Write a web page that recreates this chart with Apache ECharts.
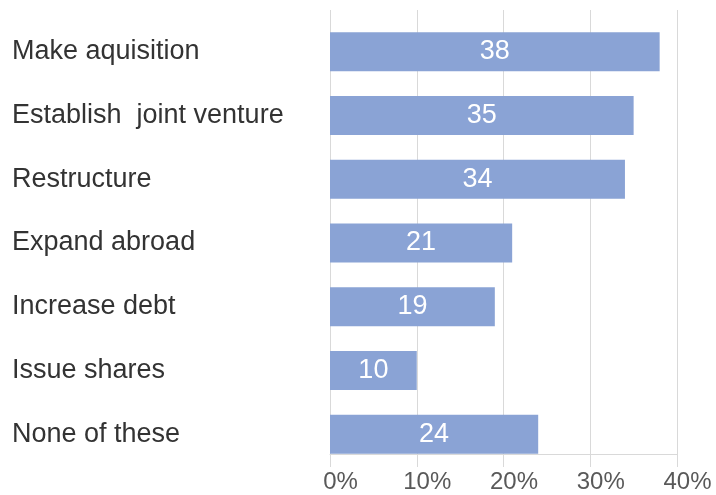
<!DOCTYPE html>
<html>
<head>
<meta charset="utf-8">
<script src="https://cdn.jsdelivr.net/npm/echarts@6/dist/echarts.min.js"></script>
<style>
  html, body { margin: 0; padding: 0; background: #ffffff; }
  #chart { width: 716px; height: 495px; }
</style>
</head>
<body>
<div id="chart"></div>
<script>
// Survey answers, top to bottom
const categories = [
  'Make aquisition',
  'Establish  joint venture',
  'Restructure',
  'Expand abroad',
  'Increase debt',
  'Issue shares',
  'None of these'
];
// Share of respondents (%)
const values = [38, 35, 34, 21, 19, 10, 24];
// Percentage axis ticks
const tickValues = [0, 10, 20, 30, 40];

const axisMin = tickValues[0];
const axisMax = tickValues[tickValues.length - 1];
const tickStep = tickValues[1] - tickValues[0];

const chart = echarts.init(document.getElementById('chart'), null, { renderer: 'canvas' });

chart.setOption({
  animation: false,
  backgroundColor: '#ffffff',
  textStyle: { fontFamily: 'Liberation Sans, Arial, sans-serif' },
  grid: [
    // frame with the percentage axis and vertical gridlines
    { left: 330, width: 347, top: 10, height: 444, containLabel: false },
    // band holding the bars and category names
    { left: 330, width: 347, top: 20, height: 446, containLabel: false }
  ],
  xAxis: [
    {
      gridIndex: 0,
      type: 'value',
      min: axisMin,
      max: axisMax,
      interval: tickStep,
      axisLine: { show: true, lineStyle: { color: '#d9d9d9', width: 1 } },
      axisTick: { show: true, length: 13, lineStyle: { color: '#d9d9d9', width: 1 } },
      splitLine: { show: true, lineStyle: { color: '#d9d9d9', width: 1 } },
      axisLabel: {
        formatter: '{value}%',
        fontSize: 24,
        color: '#595959',
        margin: 16,
        padding: [0, 0, 0, 21]
      }
    },
    {
      gridIndex: 1,
      type: 'value',
      min: axisMin,
      max: axisMax,
      show: false
    }
  ],
  yAxis: [
    {
      gridIndex: 0,
      type: 'value',
      show: false
    },
    {
      gridIndex: 1,
      type: 'category',
      inverse: true,
      data: categories,
      axisLine: { show: false },
      axisTick: { show: false },
      splitLine: { show: false },
      axisLabel: {
        align: 'left',
        margin: 318,
        fontSize: 27,
        color: '#333333'
      }
    }
  ],
  series: [
    {
      type: 'bar',
      xAxisIndex: 1,
      yAxisIndex: 1,
      data: values,
      barWidth: 39,
      itemStyle: { color: '#8AA3D5' },
      label: {
        show: true,
        position: 'inside',
        formatter: '{c}',
        color: '#ffffff',
        fontSize: 27
      }
    }
  ]
});
</script>
</body>
</html>
